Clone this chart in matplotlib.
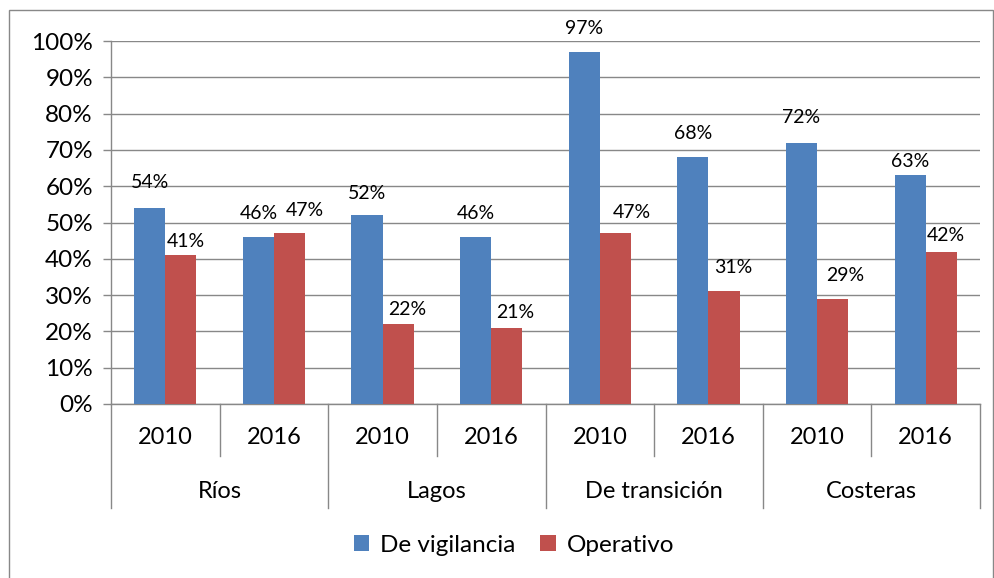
import matplotlib
matplotlib.use("Agg")
import matplotlib.pyplot as plt
import matplotlib.transforms as mtransforms
from matplotlib.patches import Rectangle, Patch
import numpy as np

plt.rcParams['font.family'] = ['Lato', 'DejaVu Sans']

groups = ["Ríos", "Lagos", "De transición", "Costeras"]
years = ["2010", "2016"]
vigilancia = [54, 46, 52, 46, 97, 68, 72, 63]
operativo = [41, 47, 22, 21, 47, 31, 29, 42]
series_names = ["De vigilancia", "Operativo"]
colors = ["#4F81BD", "#C0504D"]
grid_col = "#888888"

# label placement tweaks (pixels) as in the reference
blue_dy = [25, 24, 22, 24, 23, 24, 25, 14]
red_dx = [5, 15, 9, 8, 16, 9, 13, 5]
red_dy = [14, 23, 15, 15, 21, 24, 23, 16]

W, H = 995, 578
fig = plt.figure(figsize=(W / 100, H / 100), dpi=100)
fig.patch.set_facecolor("white")

x0, x1 = 111, 980
ytop, ybot = 41, 404
ax = fig.add_axes([x0 / W, 1 - ybot / H, (x1 - x0) / W, (ybot - ytop) / H])

n = len(vigilancia)
x = np.arange(n)
bw = 0.286
ax.bar(x - bw / 2, np.array(vigilancia) / 100, bw, color=colors[0], zorder=3)
ax.bar(x + bw / 2, np.array(operativo) / 100, bw, color=colors[1], zorder=3)

ax.set_xlim(-0.5, n - 0.5)
ax.set_ylim(0, 1)
yt = np.arange(0, 1.01, 0.1)
ax.set_yticks(yt)
ax.set_yticklabels([f"{int(round(v * 100))}%" for v in yt], fontsize=17.5)
ax.tick_params(axis='y', length=6, width=1, color=grid_col, pad=7)
ax.tick_params(axis='x', length=0, labelbottom=False)
ax.yaxis.grid(True, color=grid_col, linewidth=1, zorder=0)
for s in ["top", "right"]:
    ax.spines[s].set_visible(False)
for s in ["left", "bottom"]:
    ax.spines[s].set_color(grid_col)
    ax.spines[s].set_linewidth(1)
ax.set_axisbelow(True)

px = 0.72  # points per pixel at 100 dpi
for i in range(n):
    ax.annotate(f"{vigilancia[i]}%", (x[i] - bw / 2, vigilancia[i] / 100),
                xytext=(0, blue_dy[i] * px), textcoords="offset points",
                ha="center", va="center", fontsize=14, zorder=4)
    ax.annotate(f"{operativo[i]}%", (x[i] + bw / 2, operativo[i] / 100),
                xytext=(red_dx[i] * px, red_dy[i] * px), textcoords="offset points",
                ha="center", va="center", fontsize=14, zorder=4)

# multi-level category axis
ah = ybot - ytop
trans = mtransforms.blended_transform_factory(ax.transData, ax.transAxes)
y_year_sep = -(456 - ybot) / ah
y_group_sep = -(508 - ybot) / ah
for k in range(n + 1):
    xb = k - 0.5
    yend = y_group_sep if k % 2 == 0 else y_year_sep
    ax.plot([xb, xb], [0, yend], transform=trans, color=grid_col,
            linewidth=1, clip_on=False)
for i in range(n):
    ax.text(x[i], -(438 - ybot) / ah, years[i % 2], transform=trans,
            ha="center", va="center", fontsize=17)
for g, name in enumerate(groups):
    ax.text(2 * g + 0.5, -(492 - ybot) / ah, name, transform=trans,
            ha="center", va="center", fontsize=17)

# legend
handles = [Patch(facecolor=colors[0]), Patch(facecolor=colors[1])]
fig.legend(handles, series_names, loc="center", bbox_to_anchor=(514 / W, 1 - 545 / H),
           ncol=2, frameon=False, fontsize=17.5, handlelength=0.65, handleheight=0.65,
           handletextpad=0.45, columnspacing=1.0)

# outer border
fig.add_artist(Rectangle((9 / W, -0.02), (993 - 9) / W, (H - 10) / H + 0.02,
                         transform=fig.transFigure, fill=False,
                         edgecolor=grid_col, linewidth=1))

fig.savefig("out.png", dpi=100)
